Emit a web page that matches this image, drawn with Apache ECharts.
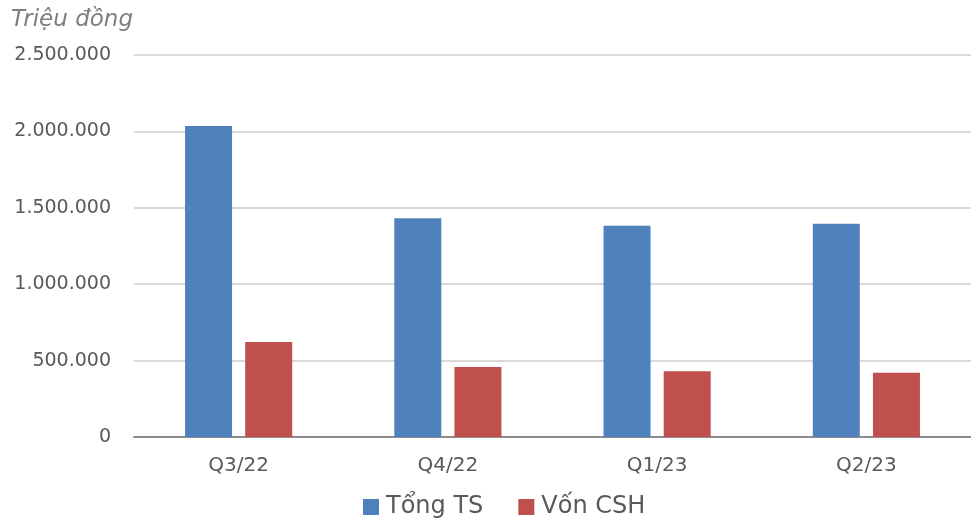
<!DOCTYPE html>
<html>
<head>
<meta charset="utf-8">
<style>
  html, body { margin: 0; padding: 0; background: #fff; }
  #chart { width: 971px; height: 521px; }
</style>
<script src="https://cdn.jsdelivr.net/npm/echarts@6/dist/echarts.min.js"></script>
</head>
<body>
<div id="chart"></div>
<script>
var quarters = ["Q3/22", "Q4/22", "Q1/23", "Q2/23"];
var tongTS = [2035000, 1431000, 1383000, 1396000];
var vonCSH = [622000, 458000, 430000, 421000];
var seriesNames = ["Tổng TS", "Vốn CSH"];

function fmtVN(v) {
  return String(v).replace(/\B(?=(\d{3})+(?!\d))/g, ".");
}

var myChart = echarts.init(document.getElementById("chart"));
var option = {
  backgroundColor: "#ffffff",
  animation: false,
  textStyle: { fontFamily: "DejaVu Sans" },
  title: {
    text: "Triệu đồng",
    left: 6,
    top: 4,
    textStyle: {
      fontFamily: "DejaVu Sans",
      fontStyle: "italic",
      fontWeight: "normal",
      fontSize: 23,
      color: "#7f7f7f"
    }
  },
  legend: {
    data: seriesNames,
    left: 363,
    top: 495,
    padding: 0,
    itemWidth: 16,
    itemHeight: 16,
    itemGap: 35,
    icon: "rect",
    textStyle: { fontSize: 24, color: "#595959", padding: [0, 0, 0, 2] }
  },
  grid: {
    left: 134,
    top: 55,
    width: 840,
    bottom: 84,
    containLabel: false
  },
  xAxis: {
    type: "category",
    data: quarters,
    axisTick: { show: false },
    axisLine: { lineStyle: { color: "#8c8c8c", width: 2 } },
    axisLabel: { fontSize: 20, color: "#595959", margin: 19 }
  },
  yAxis: {
    type: "value",
    min: 0,
    max: 2500000,
    interval: 500000,
    axisLine: { show: false },
    axisTick: { show: false },
    splitLine: { lineStyle: { color: "#d9d9d9", width: 2 } },
    axisLabel: {
      fontSize: 19,
      color: "#595959",
      margin: 23,
      formatter: function (v) { return fmtVN(v); }
    }
  },
  series: [
    {
      name: seriesNames[0],
      type: "bar",
      data: tongTS,
      barWidth: 47,
      barGap: "28%",
      itemStyle: { color: "#4f81bd" }
    },
    {
      name: seriesNames[1],
      type: "bar",
      data: vonCSH,
      barWidth: 47,
      barGap: "28%",
      itemStyle: { color: "#c0504d" }
    }
  ]
};
myChart.setOption(option);
</script>
</body>
</html>
